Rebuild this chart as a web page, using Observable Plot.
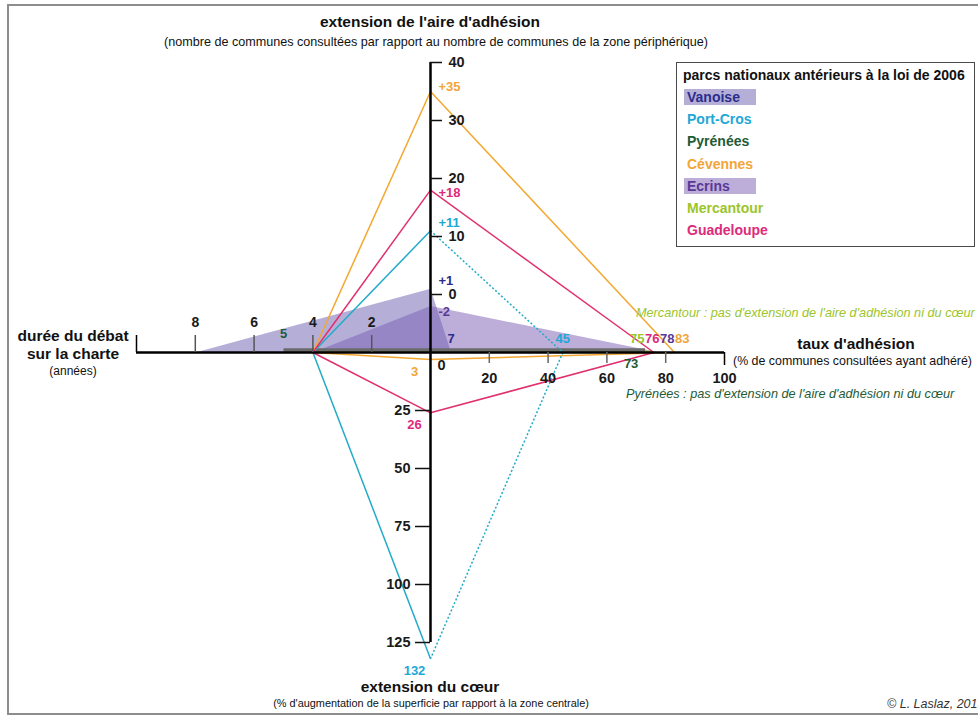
<!DOCTYPE html>
<html><head><meta charset="utf-8">
<script src="https://cdn.jsdelivr.net/npm/d3@7"></script>
<script src="https://cdn.jsdelivr.net/npm/@observablehq/plot@0.6"></script>
<style>
body{margin:0;background:#fff;font-family:"Liberation Sans",Arial,sans-serif;}
#wrap{position:relative;width:978px;height:717px;overflow:hidden;background:#fff;}
#wrap svg{position:absolute;left:0;top:0;}
.t{position:absolute;white-space:nowrap;transform:translate(-50%,-50%);line-height:1;}
.l{position:absolute;white-space:nowrap;transform:translate(0,-50%);line-height:1;}
#frame{position:absolute;left:7px;top:4px;width:1000px;height:707px;border:2px solid #8d8d8d;}
#legend{position:absolute;left:676px;top:62px;width:297px;height:183px;border:1.5px solid #4a4a4a;background:#fff;}
</style></head><body><div id="wrap"><div id="frame"></div></div>
<script>
// ---------- data ----------
const parks  = ["Vanoise", "Port-Cros", "Pyrénées", "Cévennes", "Ecrins", "Mercantour", "Guadeloupe"];
const duree  = [8, 4, 5, 4, 4, 4, 4];            // durée du débat (années)
const aire   = [1, 11, null, 35, -2, null, 18];  // extension de l'aire d'adhésion
const taux   = [7, 45, 73, 83, 78, 75, 76];      // taux d'adhésion (%)
const coeur  = [0, 132, null, 3, 0, null, 26];   // extension du cœur (%)
const dureeTicks = [2, 4, 6, 8, 10];
const dureeTickLabels = ["2", "4", "6", "8", ""];
const tauxTicks  = [20, 40, 60, 80, 100];
const aireTicks  = [0, 10, 20, 30, 40];
const coeurTicks = [25, 50, 75, 100, 125];

// ---------- styles ----------
const textColors = ["#2b2c8c", "#1fa8d6", "#1e5b36", "#f2a53a", "#5a3896", "#9cc52c", "#dd2a7b"];
const lineColors = ["#6b60b2", "#22abc9", "#6b6b6b", "#f3a72f", "#7a5db4", "#a4c83a", "#e0306f"];
const filledParks = ["Vanoise", "Ecrins"];
const dottedRightParks = ["Port-Cros"];
const FONT = "Liberation Sans, Arial, sans-serif";

// ---------- geometry (per-axis value → common plot units) ----------
const W = 978, H = 717, CX = 430, CY = 352, KX = 2.94, KY = 2.9;
const xDur = yr => -yr * 10;      // 10 years ↔ 100 units to the left
const xTaux = t => t;             // 100 % ↔ 100 units to the right
const yAire = a => (a + 10) * 2;  // -10..40 ↔ 0..100 units up
const yCoeur = c => -c * 0.8;     // 0..125 ↔ 0..-100 units down

const rows = parks.map((p, i) => ({park: p, duree: duree[i], aire: aire[i], taux: taux[i], coeur: coeur[i],
  tc: textColors[i], lc: lineColors[i]}));

const polys = rows.filter(r => r.aire !== null).map(r => ({...r, verts: [
  {x: xDur(r.duree), y: 0}, {x: 0, y: yAire(r.aire)}, {x: xTaux(r.taux), y: 0}, {x: 0, y: yCoeur(r.coeur)}
]}));

const fillVerts = polys.filter(p => filledParks.includes(p.park))
  .flatMap(p => p.verts.map(v => ({...v, park: p.park, lc: p.lc})));

const segs = polys.filter(p => !filledParks.includes(p.park)).flatMap(p => p.verts.map((v, i) => {
  const w = p.verts[(i + 1) % 4];
  return {x1: v.x, y1: v.y, x2: w.x, y2: w.y, lc: p.lc,
    dotted: dottedRightParks.includes(p.park) && (i === 1 || i === 2)};
}));

const flats = rows.filter(r => r.aire === null);

// top value labels, kept clear of the tick labels (pixel distances)
const MINGAP = 14;
const topLabels = polys.map(p => {
  const vy = yAire(p.aire) * KY;
  let ly = p.aire < 0 ? vy - 6 : vy + 5;
  aireTicks.forEach(t => {
    const ty = yAire(t) * KY;
    if (Math.abs(ly - ty) < MINGAP) ly = ly < ty ? ty - MINGAP : ty + MINGAP;
  });
  return {x: 0, y: ly / KY, text: (p.aire > 0 ? "+" : "") + p.aire, c: p.tc};
});
const bottomLabels = polys.filter(p => p.coeur > 0).map(p => ({x: 0, y: yCoeur(p.coeur), text: String(p.coeur), c: p.tc}));

// right labels: spread clusters around their mean position (pixels)
const rightAbove = rows.filter(r => r.park !== "Pyrénées").map(r => ({v: r.taux, c: r.tc})).sort((a, b) => a.v - b.v);
const clusters = [];
rightAbove.forEach(d => {
  const last = clusters[clusters.length - 1];
  if (last && d.v - last[last.length - 1].v < 8) last.push(d); else clusters.push([d]);
});
const GAP = 15;
clusters.forEach(cl => {
  const mean = d3.mean(cl, d => d.v * KX);
  cl.forEach((d, i) => { d.px = mean - (cl.length - 1) * GAP / 2 + i * GAP; });
});
const pyr = rows.find(r => r.park === "Pyrénées");

const bold = {fontWeight: "bold"};
const marks = [
  ...filledParks.map(name => Plot.line(fillVerts.filter(d => d.park === name), {
    x: "x", y: "y", curve: "linear-closed", fill: d => d.lc, fillOpacity: 0.5, stroke: "none"})),
  Plot.link(flats.filter(r => r.park === "Mercantour"), {x1: r => xDur(r.duree), x2: r => xTaux(r.taux), y1: 0, y2: 0,
    stroke: "lc", strokeWidth: 2, dy: -1}),
  Plot.link(flats.filter(r => r.park === "Pyrénées"), {x1: r => xDur(r.duree), x2: r => xTaux(r.taux), y1: 0, y2: 0,
    stroke: "lc", strokeWidth: 3.5, dy: -2.5}),
  Plot.link(segs.filter(s => !s.dotted), {x1: "x1", y1: "y1", x2: "x2", y2: "y2", stroke: "lc", strokeWidth: 1.5}),
  Plot.link(segs.filter(s => s.dotted), {x1: "x1", y1: "y1", x2: "x2", y2: "y2", stroke: "lc", strokeWidth: 1.5, strokeDasharray: "2,2"}),
  Plot.ruleX([0], {y1: yAire(40), y2: yCoeur(125), stroke: "#000", strokeWidth: 2.5}),
  Plot.ruleY([0], {x1: xDur(10), x2: xTaux(100), stroke: "#000", strokeWidth: 2.5}),
  Plot.ruleY(aireTicks, {y: d => yAire(d), x1: 0, x2: 12 / KX, stroke: "#111", strokeWidth: 1.5}),
  Plot.ruleY(coeurTicks, {y: d => yCoeur(d), x1: -15 / KX, x2: 0, stroke: "#111", strokeWidth: 1.5}),
  Plot.ruleX(dureeTicks, {x: d => xDur(d), y1: 0, y2: 17 / KY, stroke: d => d === 10 ? "#000" : "#555", strokeWidth: 1.5}),
  Plot.ruleX(tauxTicks, {x: d => xTaux(d), y1: 0, y2: d => (d === 100 ? -13 : -11) / KY, stroke: d => d === 100 ? "#000" : "#666", strokeWidth: 1.5}),
  Plot.text(aireTicks, {x: 0, y: d => yAire(d), text: d => String(d), dx: 18, textAnchor: "start", ...bold, fontSize: 14.5, fill: "#1a1a1a"}),
  Plot.text(coeurTicks, {x: 0, y: d => yCoeur(d), text: d => String(d), dx: -20, textAnchor: "end", ...bold, fontSize: 14.5, fill: "#1a1a1a"}),
  Plot.text([0], {x: 0, y: 0, text: d => String(d), dx: 11, dy: 13, ...bold, fontSize: 14.5, fill: "#1a1a1a"}),
  Plot.text(dureeTicks, {x: d => xDur(d), y: 0, text: (d, i) => dureeTickLabels[i], dy: -30, ...bold, fontSize: 14, fill: "#1a1a1a"}),
  Plot.text(tauxTicks, {x: d => xTaux(d), y: 0, text: d => String(d), dy: 26, ...bold, fontSize: 14.5, fill: "#1a1a1a"}),
  Plot.text(topLabels, {x: "x", y: "y", text: "text", fill: "c", dx: 8, textAnchor: "start", ...bold, fontSize: 13}),
  Plot.text(bottomLabels, {x: "x", y: "y", text: "text", fill: "c", dx: -16, dy: 12, ...bold, fontSize: 13}),
  Plot.text(rightAbove, {x: d => d.px / KX, y: 0, text: d => String(d.v), fill: "c", dy: -14, ...bold, fontSize: 13}),
  Plot.text([pyr], {x: r => xTaux(r.taux), y: 0, text: r => String(r.taux), fill: "tc", dx: -14, dy: 11, ...bold, fontSize: 13}),
  Plot.text([pyr], {x: r => xDur(r.duree), y: 0, text: r => String(r.duree), fill: "tc", dy: -19, ...bold, fontSize: 13})
];

const chart = Plot.plot({
  width: W, height: H, margin: 0,
  x: {domain: [-CX / KX, (W - CX) / KX], axis: null},
  y: {domain: [-(H - CY) / KY, CY / KY], axis: null},
  style: {fontFamily: FONT, background: "transparent", overflow: "visible"},
  marks
});
const wrap = document.getElementById("wrap");
wrap.appendChild(chart);

// ---------- HTML text ----------
function put(text, x, y, css, cls = "t") {
  const d = document.createElement("div");
  d.className = cls; d.textContent = text; d.style.left = x + "px"; d.style.top = y + "px";
  d.style.cssText += css; wrap.appendChild(d); return d;
}
put("extension de l'aire d'adhésion", 430, 22, "font-weight:bold;font-size:15.5px;color:#111;");
put("(nombre de communes consultées par rapport au nombre de communes de la zone périphérique)", 436, 42, "font-size:12.6px;color:#111;");
put("durée du débat", 73, 336, "font-weight:bold;font-size:15.5px;color:#111;");
put("sur la charte", 73, 354, "font-weight:bold;font-size:15.5px;color:#111;");
put("(années)", 73, 371, "font-size:12px;color:#111;");
put("taux d'adhésion", 856, 344, "font-weight:bold;font-size:15.5px;color:#111;");
put("(% de communes consultées ayant adhéré)", 733, 361, "font-size:12.4px;color:#111;", "l");
put("extension du cœur", 430, 687, "font-weight:bold;font-size:15.5px;color:#111;");
put("(% d'augmentation de la superficie par rapport à la zone centrale)", 431, 703, "font-size:10.9px;color:#111;");
put("Mercantour : pas d'extension de l'aire d'adhésion ni du cœur", 636, 313, "font-style:italic;font-size:12.7px;color:" + textColors[5] + ";", "l");
put("Pyrénées : pas d'extension de l'aire d'adhésion ni du cœur", 626, 394, "font-style:italic;font-size:12.7px;color:" + textColors[2] + ";", "l");
put("© L. Laslaz, 2013", 887, 704, "font-style:italic;font-size:12.5px;color:#333;", "l");

// legend
const lg = document.createElement("div"); lg.id = "legend"; wrap.appendChild(lg);
put("parcs nationaux antérieurs à la loi de 2006", 683, 75, "font-weight:bold;font-size:14px;color:#111;", "l");
parks.forEach((p, i) => {
  const y = 97 + i * 22.2;
  if (filledParks.includes(p)) {
    const bg = document.createElement("div");
    bg.style.cssText = `position:absolute;left:684px;top:${y - 8}px;width:72px;height:16px;background:${lineColors[i]};opacity:0.5;`;
    wrap.appendChild(bg);
  }
  put(p, 687, y, `font-weight:bold;font-size:14px;color:${textColors[i]};`, "l");
});
</script></body></html>
